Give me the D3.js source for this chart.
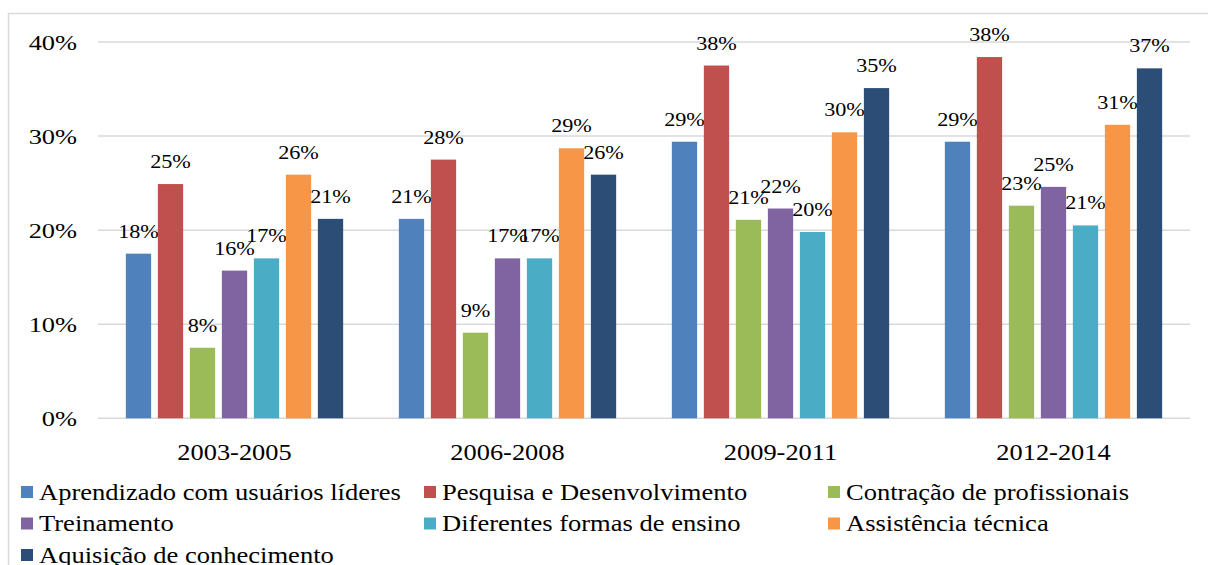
<!DOCTYPE html>
<html>
<head>
<meta charset="utf-8">
<script src="https://cdn.jsdelivr.net/npm/d3@7"></script>
<style>
  body { margin: 0; background: #fff; }
  svg text { font-family: "Liberation Serif", "Times New Roman", serif; fill: #000; }
</style>
</head>
<body>
<script>
var periods = ["2003-2005", "2006-2008", "2009-2011", "2012-2014"];
var series  = ["Aprendizado com usuários líderes", "Pesquisa e Desenvolvimento", "Contração de profissionais",
               "Treinamento", "Diferentes formas de ensino", "Assistência técnica", "Aquisição de conhecimento"];
var colors  = ["#4f81bd", "#c0504d", "#9bbb59", "#8064a2", "#4bacc6", "#f79646", "#2c4d75"];

// one array per series, values in % for each period
var aprendizado = [17.5, 21.2, 29.4, 29.4];
var pesquisa    = [24.9, 27.5, 37.5, 38.4];
var contracao   = [7.5, 9.1, 21.1, 22.6];
var treinamento = [15.7, 17.0, 22.3, 24.6];
var formas      = [17.0, 17.0, 19.8, 20.5];
var assistencia = [25.9, 28.7, 30.4, 31.2];
var aquisicao   = [21.2, 25.9, 35.1, 37.2];
var yTicks      = [0, 10, 20, 30, 40];

var values = [aprendizado, pesquisa, contracao, treinamento, formas, assistencia, aquisicao];

var width = 1208, height = 565;
var plotLeft = 98, plotRight = 1190, plotTop = 42, plotBottom = 418.3;

var svg = d3.select("body").append("svg")
    .attr("width", width)
    .attr("height", height);

// outer frame
svg.append("path")
    .attr("d", "M 8.5," + height + " L 8.5,13.5 L " + width + ",13.5")
    .attr("fill", "none")
    .attr("stroke", "#d9d9d9")
    .attr("stroke-width", 1.5);

var x0 = d3.scaleBand().domain(periods).range([plotLeft, plotRight]);
var x1 = d3.scaleBand().domain(d3.range(series.length)).range([0, x0.bandwidth()])
    .paddingInner(0.21).paddingOuter(0.87);
var y = d3.scaleLinear().domain([0, 40]).range([plotBottom, plotTop]);

// stretched serif text, like the original
function label(g, x, yy, txt, size, sx, anchor) {
    return g.append("text")
        .attr("transform", "translate(" + x + "," + yy + ") scale(" + sx + ",1)")
        .attr("text-anchor", anchor)
        .style("font-size", size + "px")
        .text(txt);
}

var grid = svg.append("g");
yTicks.forEach(function (t) {
    grid.append("line")
        .attr("x1", plotLeft).attr("x2", plotRight)
        .attr("y1", y(t)).attr("y2", y(t))
        .attr("stroke", "#d9d9d9")
        .attr("stroke-width", 1.5);
    label(grid, 77, y(t) + 8, t + "%", 22, 1.2, "end");
});

var groups = svg.append("g").selectAll("g")
    .data(periods)
    .enter()
    .append("g")
    .attr("transform", function (d) { return "translate(" + x0(d) + ",0)"; });

groups.each(function (p, pi) {
    var g = d3.select(this);
    series.forEach(function (s, si) {
        var v = values[si][pi];
        g.append("rect")
            .attr("x", x1(si))
            .attr("y", y(v))
            .attr("width", x1.bandwidth())
            .attr("height", y(0) - y(v))
            .attr("fill", colors[si]);
        label(g, x1(si) + x1.bandwidth() / 2, y(v) - 16, Math.round(v) + "%", 19, 1.17, "middle");
    });
    label(g, x0.bandwidth() / 2, 460, p, 24, 1.1, "middle");
});

// legend, three columns
var legend = svg.append("g");
var colX = [21, 424, 828], rowY = [492, 523.5, 555];
series.forEach(function (s, i) {
    var cx = colX[i % 3], cy = rowY[Math.floor(i / 3)];
    legend.append("rect")
        .attr("x", cx).attr("y", cy - 6)
        .attr("width", 12).attr("height", 12)
        .attr("fill", colors[i]);
    label(legend, cx + 18, cy + 7.5, s, 23.5, 1.13, "start");
});
</script>
</body>
</html>
